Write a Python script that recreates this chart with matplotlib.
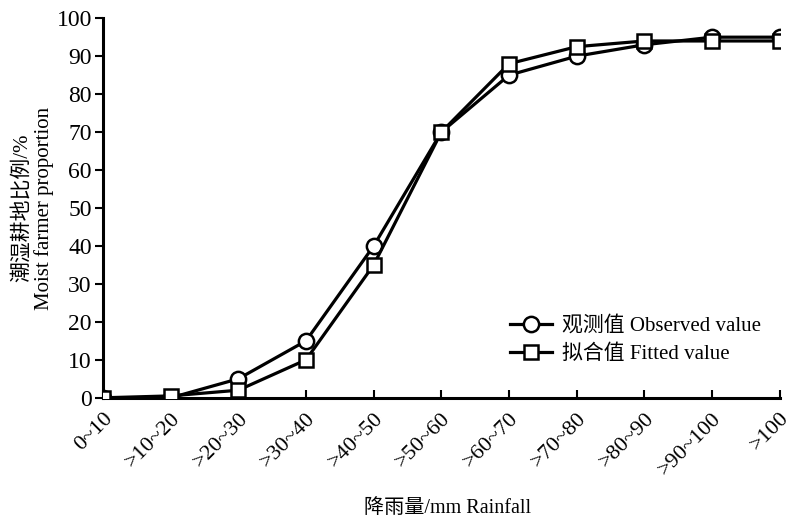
import matplotlib
matplotlib.use("Agg")
import matplotlib.pyplot as plt
import matplotlib.transforms as mtransforms
import numpy as np

# classes de pluie et proportions
classes = ['0~10', '>10~20', '>20~30', '>30~40', '>40~50', '>50~60',
           '>60~70', '>70~80', '>80~90', '>90~100', '>100']
observe = [0, 0, 5, 15, 40, 70, 85, 90, 93, 95, 95]
ajuste = [0, 0.5, 2, 10, 35, 70, 88, 92.5, 94, 94, 94]
yticks = [0, 10, 20, 30, 40, 50, 60, 70, 80, 90, 100]

plt.rcParams['font.family'] = ['Liberation Serif', 'Noto Sans CJK SC']
plt.rcParams['font.size'] = 16

fig = plt.figure(figsize=(7.86, 5.2), dpi=100)
ax = fig.add_axes([0.131, 0.235, 0.861, 0.73])

x = np.arange(len(classes))
ax.plot(x, observe, color='black', lw=2.3, marker='o', ms=11,
        mfc='white', mec='black', mew=1.8, label='观测值 Observed value', zorder=3)
ax.plot(x, ajuste, color='black', lw=2.3, marker='s', ms=9.5,
        mfc='white', mec='black', mew=1.8, label='拟合值 Fitted value', zorder=3)

ax.set_xlim(0, len(classes) - 1)
ax.set_ylim(0, 100)
ax.set_xticks(x)
ax.set_xticklabels(classes, rotation=45, ha='right', rotation_mode='anchor', fontsize=16)
ax.set_yticks(yticks)
ax.set_yticklabels([str(v) for v in yticks], fontsize=17)

# petit décalage des étiquettes vers la droite
decal = mtransforms.ScaledTranslation(7 / 100, 0, fig.dpi_scale_trans)
for lab in ax.get_xticklabels():
    lab.set_transform(lab.get_transform() + decal)

for s in ['top', 'right']:
    ax.spines[s].set_visible(False)
for s in ['left', 'bottom']:
    ax.spines[s].set_linewidth(2.2)
ax.tick_params(axis='x', direction='in', length=6, width=1.5, pad=8)
ax.tick_params(axis='y', direction='out', length=6, width=1.5, pad=2)
ax.patch.set_alpha(0)

ax.set_ylabel('潮湿耕地比例/%\nMoist farmer proportion', fontsize=15, labelpad=2,
              linespacing=1.15)
fig.text(0.57, 0.023, '降雨量/mm Rainfall', ha='center', va='center', fontsize=14.5)

ax.legend(loc='lower right', bbox_to_anchor=(1.0, 0.04), frameon=False,
          handlelength=2.0, fontsize=15, labelspacing=0.4, handletextpad=0.5)

plt.savefig('out.png', dpi=100)
